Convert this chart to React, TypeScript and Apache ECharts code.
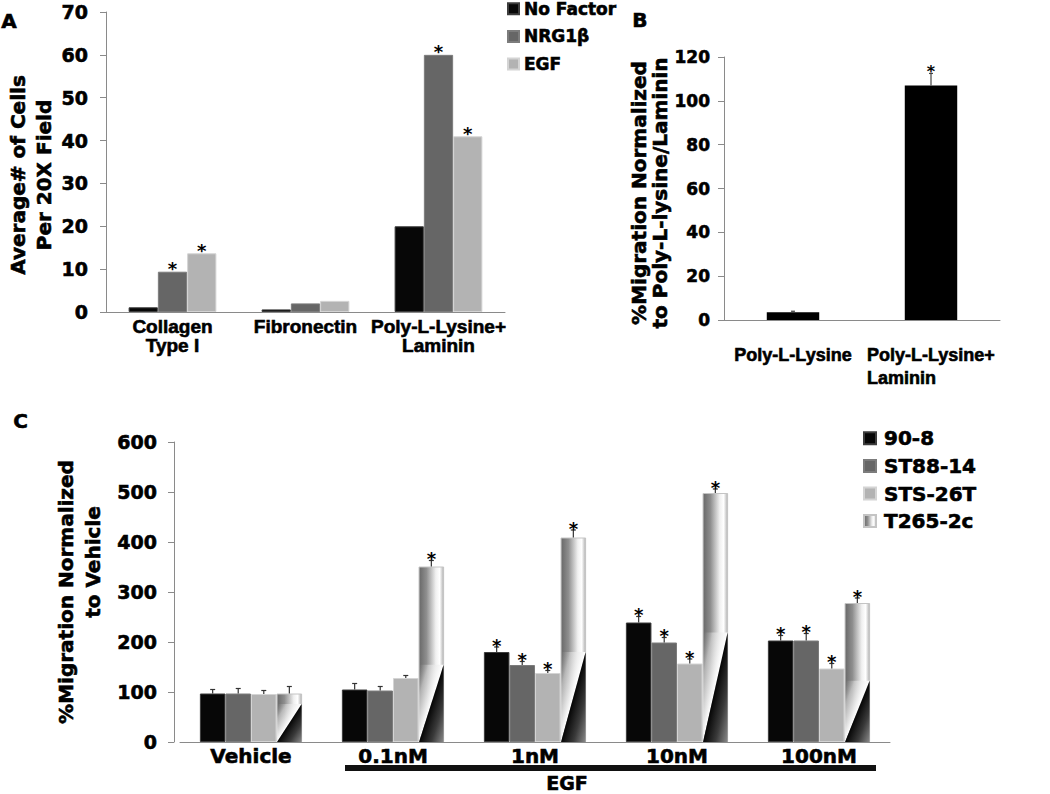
import React, { useEffect, useRef } from 'react';
import * as echarts from 'echarts';

// ---------- Panel A ----------
const categoriesA = ['Collagen\nType I', 'Fibronectin', 'Poly-L-Lysine+\nLaminin'];
const seriesNamesA = ['No Factor', 'NRG1β', 'EGF'];
const noFactor = [1.1, 0.6, 20];
const nrg1b = [9.4, 2.0, 60];
const egfA = [13.7, 2.6, 41];
const sigNoFactor = [false, false, false];
const sigNrg1b = [true, false, true];
const sigEgfA = [true, false, true];
const ticksA = [0, 10, 20, 30, 40, 50, 60, 70];

// ---------- Panel B ----------
const categoriesB = ['Poly-L-Lysine', 'Poly-L-Lysine+\nLaminin'];
const migrationB = [3.5, 107];
const errorB = [0.5, 5.5];
const sigB = [false, true];
const ticksB = [0, 20, 40, 60, 80, 100, 120];

// ---------- Panel C ----------
const categoriesC = ['Vehicle', '0.1nM', '1nM', '10nM', '100nM'];
const strainsC = ['90-8', 'ST88-14', 'STS-26T', 'T265-2c'];
const c908 = [97, 105, 180, 239, 203];
const cST8814 = [97, 103, 154, 199, 203];
const cSTS26T = [96, 128, 138, 157, 147];
const cT2652c = [97, 351, 409, 498, 278];
const e908 = [8, 12, 10, 12, 10];
const eST8814 = [10, 8, 7, 10, 14];
const eSTS26T = [7, 5, 5, 9, 10];
const eT2652c = [14, 12, 15, 8, 10];
const s908 = [0, 0, 1, 1, 1];
const sST8814 = [0, 0, 1, 1, 1];
const sSTS26T = [0, 0, 1, 1, 1];
const sT2652c = [0, 1, 1, 1, 1];
const ticksC = [0, 100, 200, 300, 400, 500, 600];

const DV = 'DejaVu Sans';
const LS = 'Liberation Sans';
const AXIS_GRAY = '#8a8a8a';
const BAR_FRAC_C = 0.18;
const HEAVY = { textBorderColor: '#000', textBorderWidth: 0.6 };

const LG = echarts.graphic.LinearGradient;

function t265Fill() {
  return new LG(0, 0, 1, 0, [
    { offset: 0, color: '#686868' },
    { offset: 0.3, color: '#8e8e8e' },
    { offset: 0.68, color: '#f0f0f0' },
    { offset: 0.84, color: '#ffffff' },
    { offset: 1, color: '#b0b0b0' },
  ]);
}

export default function App() {
  const ref = useRef<HTMLDivElement>(null);

  useEffect(() => {
    if (!ref.current) return;
    const chart = echarts.init(ref.current, null, { renderer: 'svg' });

    const starLabelA = {
      show: false,
      position: 'top',
      distance: -6,
      formatter: '*',
      fontFamily: DV,
      fontWeight: 'bold',
      fontSize: 18,
      color: '#000',
    };
    const mkA = (vals: number[], sig: boolean[]) =>
      vals.map((v, i) => ({ value: v, label: { show: sig[i] } }));

    const colorsA = ['#070707', '#666666', '#b3b3b3'];
    const bordersA = ['#3c3c3c', '#7c7c7c', '#d4d4d4'];
    const valsA = [noFactor, nrg1b, egfA];
    const sigsA = [sigNoFactor, sigNrg1b, sigEgfA];

    const seriesA = seriesNamesA.map((name, k) => ({
      name,
      type: 'bar',
      xAxisIndex: 0,
      yAxisIndex: 0,
      barWidth: '22%',
      barGap: '0%',
      itemStyle: { color: colorsA[k], borderColor: bordersA[k], borderWidth: 1 },
      label: starLabelA,
      data: mkA(valsA[k], sigsA[k]),
    }));

    // Panel B
    const seriesB = [
      {
        name: 'B',
        type: 'bar',
        xAxisIndex: 1,
        yAxisIndex: 1,
        barWidth: '38%',
        itemStyle: { color: '#000' },
        data: migrationB,
      },
      {
        name: 'B-err',
        type: 'custom',
        xAxisIndex: 1,
        yAxisIndex: 1,
        z: 4,
        silent: true,
        encode: { x: 0, y: 1 },
        data: migrationB.map((v, i) => [i, v, errorB[i], sigB[i] ? 1 : 0]),
        renderItem: (params: any, api: any) => {
          const i = api.value(0);
          const v = api.value(1);
          const e = api.value(2);
          const s = api.value(3);
          const top = api.coord([i, v]);
          const yErr = api.coord([i, v + e])[1];
          const xc = top[0];
          const children: any[] = [
            { type: 'line', shape: { x1: xc, y1: top[1], x2: xc, y2: yErr }, style: { stroke: '#444', lineWidth: 1.2 } },
            { type: 'line', shape: { x1: xc - 2, y1: yErr, x2: xc + 2, y2: yErr }, style: { stroke: '#444', lineWidth: 1.2 } },
          ];
          if (s) {
            children.push({
              type: 'text',
              x: xc,
              y: yErr - 2,
              style: { text: '*', fill: '#000', fontFamily: DV, fontWeight: 'bold', fontSize: 16, align: 'center', verticalAlign: 'middle' },
            });
          }
          return { type: 'group', children };
        },
      },
    ];

    // Panel C
    const valsC = [c908, cST8814, cSTS26T, cT2652c];
    const errsC = [e908, eST8814, eSTS26T, eT2652c];
    const sigsC = [s908, sST8814, sSTS26T, sT2652c];
    const colorsC: any[] = ['#070707', '#666666', '#b3b3b3', t265Fill()];
    const bordersC = ['#3c3c3c', '#7c7c7c', '#d4d4d4', '#c4c4c4'];

    const seriesC: any[] = strainsC.map((name, k) => ({
      name,
      type: 'bar',
      xAxisIndex: 2,
      yAxisIndex: 2,
      barWidth: BAR_FRAC_C * 100 + '%',
      barGap: '0%',
      itemStyle: { color: colorsC[k], borderColor: bordersC[k], borderWidth: 1 },
      data: valsC[k],
    }));

    // diagonal shading at the foot of the T265-2c bars
    seriesC.push({
      name: 'T265-shade',
      type: 'custom',
      xAxisIndex: 2,
      yAxisIndex: 2,
      z: 3,
      silent: true,
      encode: { x: 0, y: 1 },
      data: cT2652c.map((v, i) => [i, v]),
      renderItem: (params: any, api: any) => {
        const i = api.value(0);
        const v = api.value(1);
        const band = api.size([1, 0])[0];
        const bw = band * BAR_FRAC_C;
        const base = api.coord([i, 0]);
        const top = api.coord([i, v]);
        const x = base[0] + bw + 0.5;
        const w = bw - 1;
        const yb = base[1];
        const h = yb - top[1];
        const d = Math.min(0.8 * h, Math.max(0.44 * h, 38));
        return {
          type: 'group',
          children: [
            {
              type: 'polygon',
              shape: { points: [[x, yb], [x, yb - d], [x + w, yb - d]] },
              style: {
                fill: new LG(0.5, 0.5, 0, 0, [
                  { offset: 0, color: 'rgba(255,255,255,1)' },
                  { offset: 0.6, color: 'rgba(220,220,220,0.6)' },
                  { offset: 1, color: 'rgba(150,150,150,0)' },
                ]),
              },
            },
            {
              type: 'polygon',
              shape: { points: [[x, yb], [x + w, yb - d], [x + w, yb]] },
              style: {
                fill: new LG(0.5, 0.5, 1, 1, [
                  { offset: 0, color: '#050505' },
                  { offset: 0.5, color: '#3a3a3a' },
                  { offset: 1, color: '#8a8a8a' },
                ]),
              },
            },
          ],
        };
      },
    });

    const errRowsC: number[][] = [];
    strainsC.forEach((_, k) => {
      valsC[k].forEach((v, i) => errRowsC.push([i, v, k, errsC[k][i], sigsC[k][i]]));
    });
    seriesC.push({
      name: 'C-err',
      type: 'custom',
      xAxisIndex: 2,
      yAxisIndex: 2,
      z: 4,
      silent: true,
      encode: { x: 0, y: 1 },
      data: errRowsC,
      renderItem: (params: any, api: any) => {
        const i = api.value(0);
        const v = api.value(1);
        const k = api.value(2);
        const e = api.value(3);
        const s = api.value(4);
        const band = api.size([1, 0])[0];
        const bw = band * BAR_FRAC_C;
        const top = api.coord([i, v]);
        const yErr = api.coord([i, v + e])[1];
        const xc = top[0] + (k - 1.5) * bw;
        const children: any[] = [
          { type: 'line', shape: { x1: xc, y1: top[1], x2: xc, y2: yErr }, style: { stroke: '#333', lineWidth: 1.2 } },
          { type: 'line', shape: { x1: xc - 2.5, y1: yErr, x2: xc + 2.5, y2: yErr }, style: { stroke: '#333', lineWidth: 1.2 } },
        ];
        if (s) {
          children.push({
            type: 'text',
            x: xc,
            y: yErr - 2,
            style: { text: '*', fill: '#000', fontFamily: DV, fontWeight: 'bold', fontSize: 18, align: 'center', verticalAlign: 'middle' },
          });
        }
        return { type: 'group', children };
      },
    });

    const yAxisBase = (ticks: number[], fontSize: number, margin: number) => ({
      type: 'value',
      min: ticks[0],
      max: ticks[ticks.length - 1],
      interval: ticks[1] - ticks[0],
      axisLine: { show: true, lineStyle: { color: AXIS_GRAY, width: 1 } },
      axisTick: { show: true, length: 6, lineStyle: { color: AXIS_GRAY } },
      splitLine: { show: false },
      axisLabel: { fontFamily: DV, fontWeight: 'bold', fontSize, color: '#000', margin, ...HEAVY },
      nameLocation: 'middle',
    });

    const option: any = {
      animation: false,
      backgroundColor: '#ffffff',
      grid: [
        { left: 106, top: 12, width: 399, height: 300 },
        { left: 724, top: 57, width: 276, height: 263 },
        { left: 180, top: 442, width: 710, height: 300 },
      ],
      legend: [
        {
          data: seriesNamesA,
          orient: 'vertical',
          left: 507,
          top: 0,
          padding: 0,
          itemWidth: 11,
          itemHeight: 11,
          itemGap: 10,
          icon: 'rect',
          textStyle: { fontFamily: DV, fontWeight: 'bold', fontSize: 17, color: '#000', ...HEAVY },
          selectedMode: false,
        },
        {
          data: strainsC,
          orient: 'vertical',
          left: 858,
          top: 423,
          itemWidth: 12,
          itemHeight: 12,
          itemGap: 7,
          icon: 'rect',
          textStyle: { fontFamily: DV, fontWeight: 'bold', fontSize: 20, color: '#000', padding: [0, 0, 0, 3], ...HEAVY },
          selectedMode: false,
        },
      ],
      xAxis: [
        {
          type: 'category',
          gridIndex: 0,
          data: categoriesA,
          axisLine: { lineStyle: { color: AXIS_GRAY } },
          axisTick: { show: false },
          axisLabel: { fontFamily: LS, fontWeight: 'bold', fontSize: 19, color: '#000', margin: 5, lineHeight: 19, interval: 0, ...HEAVY },
        },
        {
          type: 'category',
          gridIndex: 1,
          data: categoriesB,
          axisLine: { lineStyle: { color: AXIS_GRAY } },
          axisTick: { show: false },
          axisLabel: {
            interval: 0,
            margin: 23,
            fontFamily: LS,
            fontWeight: 'bold',
            fontSize: 18,
            color: '#000',
            lineHeight: 23,
            formatter: (v: string) =>
              v.indexOf('\n') >= 0 ? v.split('\n').map((s) => `{l|${s}}`).join('\n') : `{p|${v}}`,
            rich: {
              l: { width: 128, align: 'left', fontFamily: LS, fontWeight: 'bold', fontSize: 18, color: '#000', lineHeight: 23, ...HEAVY },
              p: { fontFamily: LS, fontWeight: 'bold', fontSize: 18, color: '#000', lineHeight: 23, ...HEAVY },
            },
          },
        },
        {
          type: 'category',
          gridIndex: 2,
          data: categoriesC,
          axisLine: { lineStyle: { color: AXIS_GRAY } },
          axisTick: { show: false },
          axisLabel: { fontFamily: DV, fontWeight: 'bold', fontSize: 20, color: '#000', margin: 4, interval: 0, ...HEAVY },
        },
      ],
      yAxis: [
        {
          ...yAxisBase(ticksA, 19, 18),
          gridIndex: 0,
          name: 'Average# of Cells\nPer 20X Field',
          nameGap: 48,
          nameTextStyle: { fontFamily: DV, fontWeight: 'bold', fontSize: 20, color: '#000', lineHeight: 26, padding: [0, 26, 0, 0], ...HEAVY },
        },
        {
          ...yAxisBase(ticksB, 17, 14),
          gridIndex: 1,
          name: '%Migration Normalized\nto Poly-L-lysine/Laminin',
          nameGap: 53,
          nameTextStyle: { fontFamily: DV, fontWeight: 'bold', fontSize: 20, color: '#000', lineHeight: 21, padding: [0, 9, 0, 0], ...HEAVY },
        },
        {
          ...yAxisBase(ticksC, 19, 17),
          gridIndex: 2,
          offset: 6,
          name: '{a|%Migration Normalized}\n{b|to Vehicle}',
          nameGap: 54,
          nameTextStyle: {
            fontFamily: DV,
            fontWeight: 'bold',
            fontSize: 20,
            color: '#000',
            lineHeight: 27,
            rich: {
              a: { fontFamily: DV, fontWeight: 'bold', fontSize: 20, color: '#000', lineHeight: 27, ...HEAVY },
              b: { fontFamily: DV, fontWeight: 'bold', fontSize: 20, color: '#000', lineHeight: 27, padding: [0, 0, 0, 60], ...HEAVY },
            },
          },
        },
      ],
      graphic: [
        { type: 'text', left: 1, top: 11, style: { text: 'A', fontFamily: DV, fontWeight: 'bold', fontSize: 20, fill: '#000', stroke: '#000', lineWidth: 0.6 } },
        { type: 'text', left: 632, top: 10, style: { text: 'B', fontFamily: DV, fontWeight: 'bold', fontSize: 20, fill: '#000', stroke: '#000', lineWidth: 0.6 } },
        { type: 'text', left: 13, top: 411, style: { text: 'C', fontFamily: DV, fontWeight: 'bold', fontSize: 20, fill: '#000', stroke: '#000', lineWidth: 0.6 } },
        { type: 'rect', left: 345, top: 765, shape: { width: 531, height: 6 }, style: { fill: '#111' } },
        {
          type: 'text',
          x: 567,
          y: 783,
          style: { text: 'EGF', fontFamily: DV, fontWeight: 'bold', fontSize: 19, fill: '#000', stroke: '#000', lineWidth: 0.6, align: 'center', verticalAlign: 'middle' },
        },
      ],
      series: [...seriesA, ...seriesB, ...seriesC],
    };

    chart.setOption(option);
    return () => chart.dispose();
  }, []);

  return (
    <div
      ref={ref}
      style={{ position: 'absolute', left: 0, top: 0, width: 1050, height: 794, background: '#fff' }}
    />
  );
}
